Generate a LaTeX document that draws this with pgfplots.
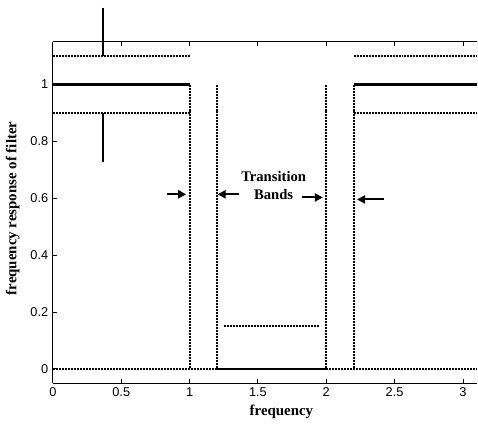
\documentclass[border=0pt]{standalone}
\usepackage{fontspec}
\setmainfont{Liberation Serif}
\newfontfamily\ticksf{Liberation Sans}
\usepackage{pgfplots}
\pgfplotsset{compat=1.18}
\usetikzlibrary{arrows.meta}

\begin{document}
\begin{tikzpicture}
% frame of the whole figure
\path (-39.75pt,-36pt) rectangle (318.75pt,288pt);
\begin{axis}[
  at={(0,0)}, anchor=south west,
  scale only axis,
  width=318.75pt, height=256.5pt,
  xmin=0, xmax=3.1022,
  ymin=-0.05, ymax=1.15,
  axis x line*=box, axis y line*=left,
  x axis line style={-}, y axis line style={-},
  xtick={0,0.5,1,1.5,2,2.5,3},
  ytick={0,0.2,0.4,0.6,0.8,1},
  tick align=inside,
  major tick length=3pt,
  axis line style={line width=0.75pt},
  every tick/.style={line width=0.7pt, black},
  ticklabel style={font=\ticksf\fontsize{9.6}{11}\selectfont},
  /pgf/number format/assume math mode=true,
  xlabel={\bfseries frequency},
  ylabel={\bfseries frequency response of filter},
  label style={font=\fontsize{11.2}{13}\selectfont},
  xlabel style={at={(axis description cs:0.539,0)}, anchor=north, inner sep=0pt, yshift=-16.5pt},
  ylabel style={at={(axis description cs:-0.0776,0.512)}, anchor=south, inner sep=0pt},
  clip=false,
]
% ideal response (solid)
\addplot[black, line width=1.6pt] coordinates {(0,1) (1,1)};
\addplot[black, line width=1.6pt] coordinates {(1.2,0) (2,0)};
\addplot[black, line width=1.6pt] coordinates {(2.2,1) (3.1022,1)};

% tolerance bounds (dotted)
\tikzset{tol/.style={black, line width=1.4pt, dash pattern=on 1.5pt off 0.75pt}}
\addplot[tol] coordinates {(0,1.1) (1,1.1)};
\addplot[tol] coordinates {(0,0.9) (1,0.9)};
\addplot[tol] coordinates {(2.2,1.1) (3.1022,1.1)};
\addplot[tol] coordinates {(2.2,0.9) (3.1022,0.9)};
\addplot[tol] coordinates {(0,0) (1.2,0)};
\addplot[tol] coordinates {(2,0) (3.1022,0)};
\addplot[tol] coordinates {(1.25,0.15) (1.95,0.15)};
\addplot[tol] coordinates {(1,1) (1,0)};
\addplot[tol] coordinates {(1.2,1) (1.2,0)};
\addplot[tol] coordinates {(2,1) (2,0)};
\addplot[tol] coordinates {(2.2,1) (2.2,0)};

% ripple markers
\addplot[black, line width=1.3pt] coordinates {(0.365,1.27) (0.365,1.1)};
\addplot[black, line width=1.3pt] coordinates {(0.365,0.9) (0.365,0.726)};

% transition band arrows
\tikzset{barrow/.style={black, line width=1.5pt, -{Triangle[length=6pt,width=6pt]}}}
\addplot[barrow] coordinates {(0.832,0.614) (0.975,0.614)};
\addplot[barrow] coordinates {(1.365,0.614) (1.205,0.614)};
\addplot[barrow] coordinates {(1.825,0.603) (1.975,0.603)};
\addplot[barrow] coordinates {(2.42,0.596) (2.225,0.596)};

\node[font=\bfseries\fontsize{11}{13}\selectfont, align=center, inner sep=0pt]
  at (axis cs:1.615,0.645) {Transition\\[1pt]Bands};
\end{axis}
\end{tikzpicture}
\end{document}
